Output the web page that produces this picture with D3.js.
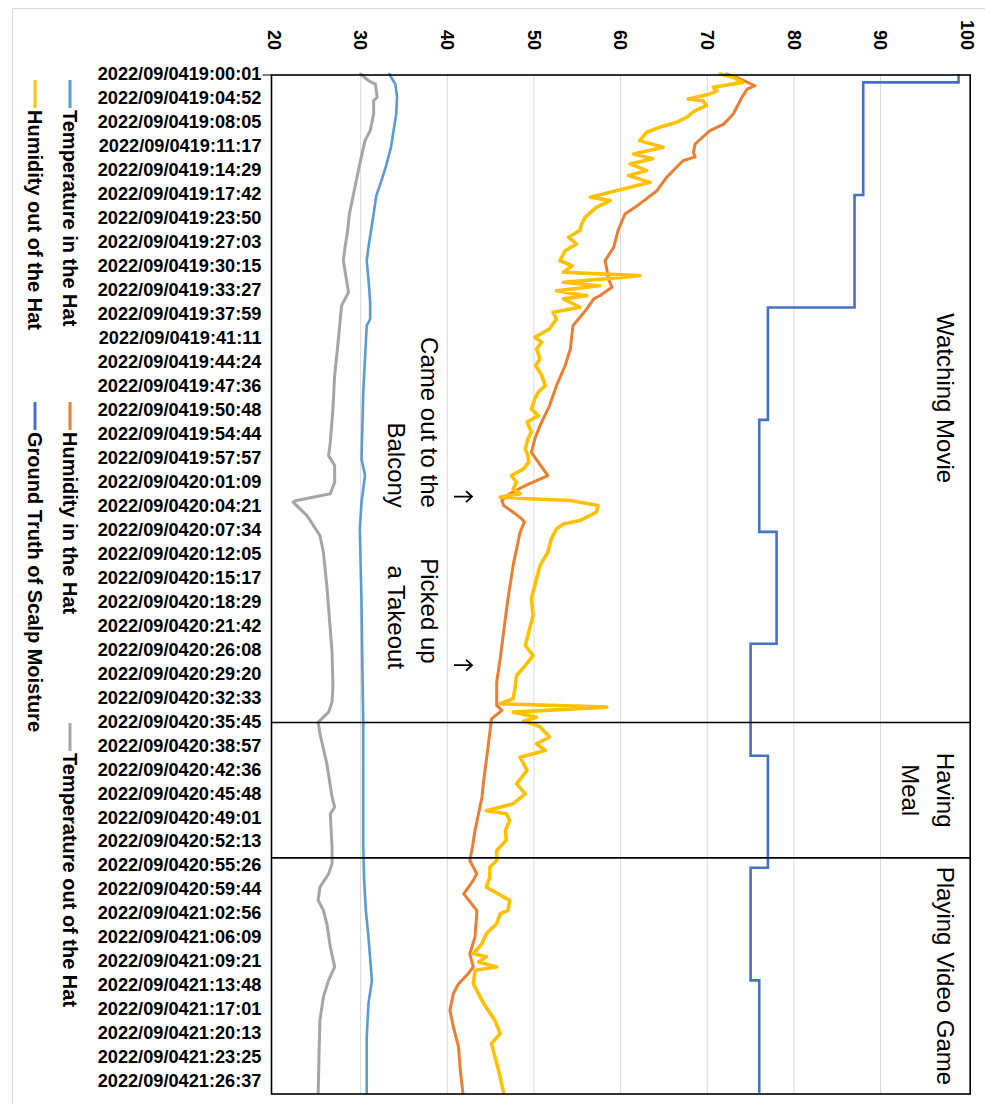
<!DOCTYPE html>
<html>
<head>
<meta charset="utf-8">
<script src="https://cdn.jsdelivr.net/npm/d3@7"></script>
<style>
  body { margin: 0; background: #fff; }
  text { font-family: "Liberation Sans", Arial, sans-serif; }
</style>
</head>
<body>
<svg id="chart" width="985" height="1104"></svg>
<script>
// category labels (one every few samples), positions are label indices
const datePrefix = "2022/09/04";
const timeLabels = ["19:00:01","19:04:52","19:08:05","19:11:17","19:14:29","19:17:42","19:23:50",
  "19:27:03","19:30:15","19:33:27","19:37:59","19:41:11","19:44:24","19:47:36","19:50:48",
  "19:54:44","19:57:57","20:01:09","20:04:21","20:07:34","20:12:05","20:15:17","20:18:29",
  "20:21:42","20:26:08","20:29:20","20:32:33","20:35:45","20:38:57","20:42:36","20:45:48",
  "20:49:01","20:52:13","20:55:26","20:59:44","21:02:56","21:06:09","21:09:21","21:13:48",
  "21:17:01","21:20:13","21:23:25","21:26:37"];
const valueTicks = [20, 30, 40, 50, 60, 70, 80, 90, 100];

// [label index, value]
const tempIn = [[0,33.3],[0.42,34.0],[0.97,34.2],[1.67,34.1],[2.36,33.8],[3.06,33.5],[3.75,33.0],
  [4.45,32.4],[5.08,31.8],[5.84,31.5],[6.53,31.2],[7.23,30.9],[7.79,30.7],[8.55,30.9],[9.52,31.1],
  [10.22,31.1],[10.5,30.7],[11.88,30.5],[13.27,30.3],[14.67,30.2],[16.05,30.1],[16.75,30.5],
  [17.86,30.1],[18.97,29.9],[22.03,30.1],[24.81,30.2],[27.04,30.3],[32.24,30.3],[33.64,30.4],
  [34.89,30.6],[36.0,30.9],[37.81,31.3],[38.78,30.9],[40.17,30.7],[42.5,30.7]];

const humIn = [[0,72.2],[0.14,73.4],[0.49,75.5],[0.63,74.6],[0.97,74.0],[1.67,73.0],[2.09,71.9],
  [2.36,70.3],[2.92,68.6],[3.27,68.4],[3.46,68.6],[3.62,67.2],[4.31,65.3],[4.87,64.2],[5.42,62.2],
  [5.84,60.5],[6.53,59.7],[7.23,59.2],[7.79,58.2],[8.13,58.4],[8.55,58.6],[8.9,59.0],[9.25,57.6],
  [9.38,56.9],[9.8,56.1],[10.5,54.5],[11.47,54.2],[12.16,53.6],[13.0,52.6],[13.83,51.8],
  [14.67,50.7],[15.22,50.1],[15.78,49.7],[16.19,50.5],[16.75,51.6],[16.96,50.3],[17.17,49.0],
  [17.51,47.2],[17.79,46.3],[18.0,46.5],[18.28,47.6],[18.56,48.6],[18.69,48.9],[19.11,48.4],
  [20.5,47.6],[21.89,47.0],[23.28,46.5],[24.4,46.1],[25.37,45.7],[26.34,45.7],[26.55,46.3],
  [26.9,45.1],[28.08,44.7],[29.47,44.2],[30.16,44.0],[30.86,43.6],[31.56,43.2],[32.25,42.9],
  [32.81,42.6],[33.36,43.4],[33.64,43.0],[34.2,41.9],[34.89,43.4],[35.03,43.4],[36.0,43.2],
  [36.7,42.6],[37.25,43.0],[37.53,42.4],[37.95,41.3],[38.36,40.7],[39.06,40.3],[39.75,40.7],
  [40.59,41.3],[41.56,41.5],[42.5,41.8]];

const tempOut = [[0,30.0],[0.28,30.9],[0.42,31.7],[0.97,31.9],[1.11,31.5],[1.67,31.5],[2.36,31.1],
  [2.78,30.5],[3.75,29.9],[4.45,29.5],[5.14,29.1],[5.84,28.7],[6.53,28.5],[7.23,28.2],[7.79,28.0],
  [9.1,28.6],[9.66,27.8],[11.19,27.4],[12.58,27.0],[13.97,26.8],[15.36,26.5],[15.92,26.3],
  [16.33,27.0],[17.03,27.0],[17.51,26.5],[17.79,22.6],[17.86,22.2],[18.42,23.8],[19.25,25.3],
  [19.95,25.7],[21.34,26.1],[22.73,26.4],[24.12,26.7],[25.51,26.8],[26.2,26.7],[26.62,26.3],
  [27.04,25.1],[27.52,25.3],[28.77,26.1],[30.16,26.7],[30.58,27.0],[30.86,26.5],[32.25,26.7],
  [32.94,26.7],[33.36,26.3],[33.92,25.3],[34.47,25.1],[34.89,25.7],[35.45,26.1],[36.42,26.5],
  [37.25,27.0],[37.81,26.3],[38.5,25.7],[39.48,25.3],[40.87,25.2],[42.5,25.1]];

const humOut = [[0,71.5],[0.14,73.0],[0.35,74.1],[0.55,70.7],[0.7,71.1],[0.83,70.3],[1.04,67.8],
  [1.11,69.5],[1.32,69.9],[1.53,68.6],[1.81,67.6],[2.01,66.5],[2.22,64.5],[2.43,63.0],[2.78,62.2],
  [3.06,64.9],[3.34,61.5],[3.54,63.7],[3.75,61.1],[4.03,63.0],[4.24,60.9],[4.52,63.4],[4.8,60.3],
  [5.14,56.5],[5.28,58.8],[5.56,57.2],[5.98,55.9],[6.26,55.5],[6.53,55.3],[6.81,54.0],[7.09,54.9],
  [7.37,53.6],[7.79,53.0],[8.0,54.4],[8.27,53.4],[8.41,62.2],[8.55,58.0],[8.69,53.4],[8.83,57.6],
  [9.04,52.6],[9.25,56.1],[9.38,53.4],[9.73,55.3],[9.94,52.2],[10.22,52.6],[10.63,51.8],
  [10.98,50.1],[11.19,50.9],[11.47,50.3],[11.88,50.7],[12.16,50.2],[12.58,50.9],[13.0,51.3],
  [13.27,50.5],[13.55,50.1],[13.97,49.7],[14.25,50.5],[14.52,49.2],[14.94,49.7],[15.22,49.3],
  [15.64,49.0],[15.92,49.3],[16.19,49.4],[16.47,48.8],[16.75,47.4],[17.03,48.0],[17.31,47.6],
  [17.51,48.4],[17.65,46.1],[17.72,49.4],[17.79,54.2],[18.0,57.4],[18.28,57.2],[18.63,55.3],
  [18.77,53.4],[18.97,52.6],[19.39,52.0],[19.95,51.6],[20.5,50.7],[21.34,50.1],[21.89,49.7],
  [22.59,49.9],[23.28,49.4],[23.84,49.0],[24.26,49.9],[24.67,49.0],[25.09,48.0],[25.65,47.8],
  [26.06,47.6],[26.27,46.1],[26.41,58.4],[26.62,47.6],[26.83,50.3],[27.0,48.8],[27.17,50.3],
  [27.24,50.7],[27.66,51.8],[27.94,50.3],[28.22,51.3],[28.5,48.4],[29.05,49.2],[29.61,48.0],
  [30.03,49.0],[30.44,47.6],[30.73,44.5],[30.86,46.8],[31.14,47.2],[31.56,46.7],[31.97,46.8],
  [32.39,45.7],[32.81,45.7],[33.09,44.9],[33.51,44.9],[33.92,44.5],[34.47,47.2],[34.89,47.0],
  [35.03,46.1],[35.45,45.7],[35.86,44.5],[36.28,44.0],[36.7,43.0],[36.82,44.5],[37.04,43.6],
  [37.25,45.7],[37.39,43.2],[37.95,43.0],[38.36,43.6],[38.78,44.2],[39.48,45.5],[40.03,46.1],
  [40.45,45.1],[41.0,45.5],[41.54,45.9],[42.5,46.5]];

// ground truth: value holds from each start index
const truthStart = [0, 0.35, 5.05, 9.74, 14.43, 19.10, 23.77, 28.44, 33.11, 37.81, 42.5];
const truthValue = [99, 88, 87, 77, 76, 78, 75, 77, 75, 76, 76];

const sectionBreaks = [0, 27.05, 32.7, 42.55];
const sectionNames = [["Watching Movie"], ["Having", "Meal"], ["Playing Video Game"]];

const seriesNames = ["Temperature in the Hat", "Humidity in the Hat", "Temperature out of the Hat",
  "Humidity out of the Hat", "Ground Truth of Scalp Moisture"];
const colors = ["#5B9BD5", "#ED7D31", "#A5A5A5", "#FFC000", "#4472C4"];

// chart is drawn upright then turned 90deg clockwise
const W = 1104, H = 985;
const svg = d3.select("#chart");
svg.append("rect").attr("x", 12.5).attr("y", 8.5).attr("width", 990).attr("height", 1110)
  .attr("fill", "#fff").attr("stroke", "#d9d9d9");

const g = svg.append("g").attr("transform", `translate(${H},0) rotate(90)`);

const x = d3.scaleLinear().domain([0, 42.55]).range([74, 1094]);
const y = d3.scaleLinear().domain([20, 100]).range([711, 17.8]);
const plotTop = y(100) - 3, plotBottom = y(20) + 2.5;

// gridlines
g.selectAll(".grid").data(valueTicks.slice(1, -1)).enter().append("line")
  .attr("x1", x(0)).attr("x2", x.range()[1])
  .attr("y1", d => y(d)).attr("y2", d => y(d))
  .attr("stroke", "#d9d9d9").attr("stroke-width", 1);

// value axis labels
g.selectAll(".vlab").data(valueTicks).enter().append("text")
  .attr("x", 50).attr("y", d => y(d)).attr("dy", "0.35em")
  .attr("text-anchor", "end").attr("font-size", 18).attr("font-weight", "bold")
  .text(d => d);

// time labels
g.selectAll(".tlab").data(timeLabels).enter().append("text")
  .attr("transform", (d, i) => `translate(${x(i)},${plotBottom + 10}) rotate(-90)`)
  .attr("dy", "0.35em").attr("text-anchor", "end")
  .attr("font-size", 18.2).attr("font-weight", "bold")
  .text(d => datePrefix + d);

g.append("line").attr("x1", x.range()[0] + 1).attr("x2", x.range()[0] + 1)
  .attr("y1", plotBottom).attr("y2", plotBottom + 9).attr("stroke", "#000");

// lines
const line = d3.line().x(d => x(d[0])).y(d => y(d[1]));
const series = [tempIn, humIn, tempOut, humOut];
const widths = [2.6, 3, 3, 3.6];
series.forEach((s, i) => {
  g.append("path").datum(s).attr("d", line)
    .attr("fill", "none").attr("stroke", colors[i]).attr("stroke-width", widths[i])
    .attr("stroke-linejoin", "round").attr("stroke-linecap", "round");
});

const truth = truthStart.map((t, i) => [t, truthValue[i]]);
g.append("path").datum(truth)
  .attr("d", d3.line().x(d => x(d[0])).y(d => y(d[1])).curve(d3.curveStepAfter))
  .attr("fill", "none").attr("stroke", colors[4]).attr("stroke-width", 2.6);

// plot border and section dividers
g.append("rect").attr("x", x(0) + 1).attr("y", plotTop)
  .attr("width", x.range()[1] - x(0) - 1).attr("height", plotBottom - plotTop)
  .attr("fill", "none").attr("stroke", "#000").attr("stroke-width", 1.6);
g.selectAll(".sec").data(sectionBreaks.slice(1, -1)).enter().append("line")
  .attr("x1", d => x(d)).attr("x2", d => x(d)).attr("y1", plotTop).attr("y2", plotBottom)
  .attr("stroke", "#000").attr("stroke-width", 1.6);

// section titles
sectionNames.forEach((lines, i) => {
  const cx = (x(sectionBreaks[i]) + x(sectionBreaks[i + 1])) / 2;
  lines.forEach((l, j) => {
    g.append("text").attr("x", cx).attr("y", 48 + j * 35)
      .attr("text-anchor", "middle").attr("font-size", 24).text(l);
  });
});

// event notes
const notes = [
  { t: 18.1, anchor: "end", lines: ["Came out to the", "Balcony"] },
  { t: 20.2, anchor: "start", lines: ["Picked up"] },
  { t: 20.5, anchor: "start", lines: ["", "a Takeout"] }
];
notes.forEach(n => {
  n.lines.forEach((l, j) => {
    g.append("text").attr("x", x(n.t)).attr("y", 564 + j * 33)
      .attr("text-anchor", n.anchor).attr("font-size", 24).text(l);
  });
});

// arrows pointing at the events
const arrows = [17.63, 24.66];
const arrowTip = 513, arrowTail = 531;
g.selectAll(".arr").data(arrows).enter().append("path")
  .attr("d", d => `M${x(d)},${arrowTail}V${arrowTip}M${x(d) - 5.5},${arrowTip + 6}L${x(d)},${arrowTip}L${x(d) + 5.5},${arrowTip + 6}`)
  .attr("fill", "none").attr("stroke", "#000").attr("stroke-width", 1.8);

// legend
const legendPos = [[80, 915], [402, 915], [723, 915], [80, 950], [402, 950]];
seriesNames.forEach((name, i) => {
  const [lx, ly] = legendPos[i];
  g.append("line").attr("x1", lx).attr("x2", lx + 28).attr("y1", ly).attr("y2", ly)
    .attr("stroke", colors[i]).attr("stroke-width", 3);
  g.append("text").attr("x", lx + 30).attr("y", ly).attr("dy", "0.35em")
    .attr("font-size", 20).attr("font-weight", "bold").text(name);
});
</script>
</body>
</html>
